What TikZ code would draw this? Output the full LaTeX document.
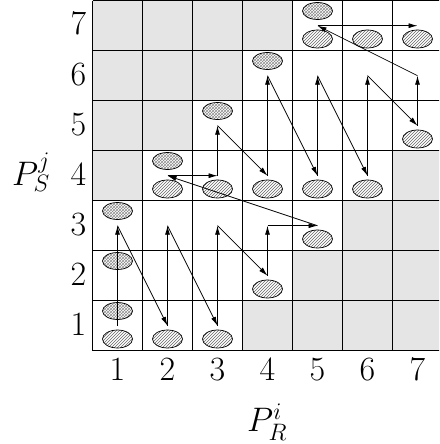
\RequirePackage{fix-cm}
\documentclass[tikz,border=0pt]{standalone}
\usetikzlibrary{arrows.meta,patterns,shapes.geometric}
\begin{document}
\begin{tikzpicture}[x=1pt,y=-1pt,
  cellgray/.style={fill=black!10, draw=none},
  gridline/.style={line width=0.9pt, black},
  hatchell/.style={ellipse, draw=black, line width=0.7pt, pattern=north east lines, pattern color=black!60, minimum width=30pt, minimum height=18pt, inner sep=0pt},
  crossell/.style={ellipse, draw=black, line width=0.7pt, pattern=crosshatch, pattern color=black!45, minimum width=30pt, minimum height=17pt, inner sep=0pt},
  flow/.style={-{Latex[length=9pt,width=5pt]}, line width=0.75pt},
  lab/.style={font=\fontsize{34}{40}\selectfont, inner sep=0pt, anchor=base}]
\clip (0,0) rectangle (439,444);
% gray cells
\foreach \r in {1,...,7}{
  \foreach \c in {1,...,7}{
    \pgfmathtruncatemacro\d{abs(\c-\r)}
    \ifnum\d>2 \fill[cellgray] (42.5+50*\c, 400.7-50*\r) rectangle ++(50,-50); \fi
  }
}
% grid
\foreach \i in {0,...,7}{
  \draw[gridline] (92.5+50*\i, 0.7) -- (92.5+50*\i, 350.7);
  \draw[gridline] (92.5, 0.7+50*\i) -- (442.5, 0.7+50*\i);
}
% cell centres
\foreach \c in {1,...,7}{
  \foreach \r in {1,...,7}{
    \coordinate (p\c\r) at (67.5+50*\c, 375.7-50*\r);
  }
}
% ellipses
\foreach \c/\r in {1/1,1/2,1/3,2/4,3/5,4/6,5/7}{
  \node[crossell] (x\c\r) at (67.5+50*\c, 361-50*\r) {};
}
\foreach \c/\r in {1/1,2/1,3/1,4/2,5/3,2/4,3/4,4/4,5/4,6/4,7/5,5/7,6/7,7/7}{
  \node[hatchell] (h\c\r) at (67.5+50*\c, 389-50*\r) {};
}
% arrows
\foreach \a/\b in {11/13,13/21,21/23,23/31,31/33,33/42,42/43,43/53,53/24,24/34,34/35,35/44,44/46,46/54,54/56,56/64,64/66,66/75,75/76,76/57,57/77}{
  \draw[flow] (p\a) -- (p\b);
}
% labels
\foreach \r in {1,...,7}{
  \node[lab] (r\r) at (78.5, 385-50*\r) {\r};
}
\foreach \c in {1,...,7}{
  \node[lab] (c\c) at (67.5+50*\c, 380) {\c};
}
\node[lab, anchor=base west] (ps) at (12,185) {$P_S^j$};
\node[lab, anchor=base west] (pr) at (247,431.7) {$P_R^i$};
\end{tikzpicture}
\end{document}
